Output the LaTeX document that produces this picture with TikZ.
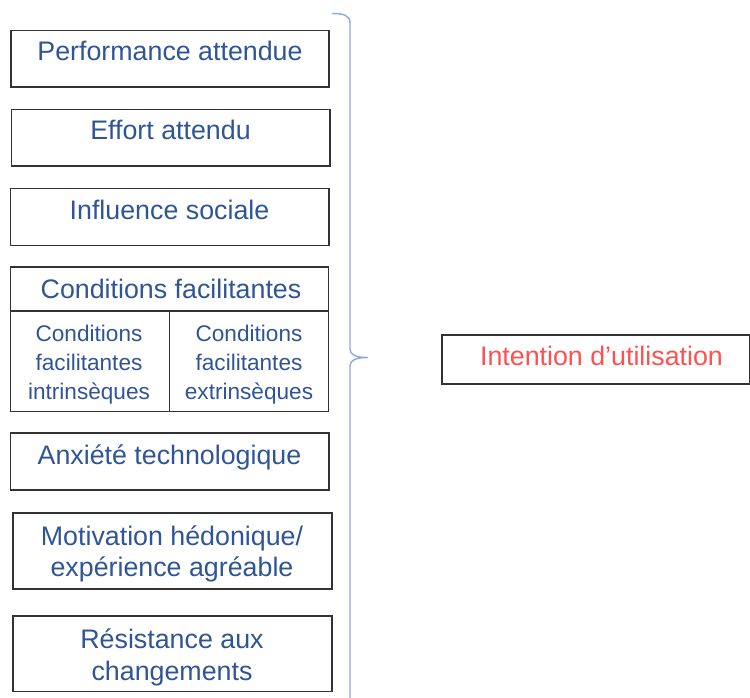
\documentclass[tikz,border=0pt]{standalone}
\usepackage{fontspec}
\setmainfont{Liberation Sans}
\definecolor{txtblue}{HTML}{2F5597}
\definecolor{txtred}{HTML}{FF5050}
\definecolor{bracecol}{HTML}{8EA9DB}
\definecolor{boxline}{HTML}{333333}
\begin{document}
\begin{tikzpicture}[x=1pt,y=-1pt,
  box/.style={draw=boxline, line width=1.8pt, inner sep=0pt, fill=none},
  lbl/.style={text=txtblue, font=\fontsize{26.8}{31.7}\selectfont, anchor=base, inner sep=0pt, align=center},
  sublbl/.style={text=txtblue, font=\fontsize{22.6}{29}\selectfont, anchor=base, inner sep=0pt},
  redlbl/.style={text=txtred, font=\fontsize{26.8}{31.7}\selectfont, anchor=base, inner sep=0pt}]
\useasboundingbox (0,0) rectangle (750,697);

% boxes
\draw[box] (10.7,30.5) rectangle (329,86.7) coordinate (b1);
\draw[box] (11.5,109.5) rectangle (330,166) coordinate (b2);
\draw[box] (10.5,188.5) rectangle (329,245.5) coordinate (b3);
\draw[box] (10.5,267) rectangle (328.5,411.5) coordinate (b4);
\draw[box] (10.5,311) -- (328.5,311);
\draw[box] (169.5,311) -- (169.5,411.5);
\draw[box] (10.5,433) rectangle (329,490) coordinate (b5);
\draw[box] (13,513) rectangle (332,589) coordinate (b6);
\draw[box] (13,616) rectangle (332,691.5) coordinate (b7);
\draw[box] (442,335) rectangle (749.5,384) coordinate (b8);

% labels
\node[lbl] (t1) at (170,60.7) {Performance attendue};
\node[lbl] (t2) at (170.5,139.2) {Effort attendu};
\node[lbl] (t3) at (169.5,219) {Influence sociale};
\node[lbl] (t4) at (171,298.3) {Conditions facilitantes};
\node[sublbl] (t4a) at (89,341) {Conditions};
\node[sublbl] (t4b) at (89,370) {facilitantes};
\node[sublbl] (t4c) at (89,399) {intrinsèques};
\node[sublbl] (t4d) at (249,341) {Conditions};
\node[sublbl] (t4e) at (249,370) {facilitantes};
\node[sublbl] (t4f) at (249,399) {extrinsèques};
\node[lbl] (t5) at (169.5,464) {Anxiété technologique};
\node[lbl] (t6a) at (172,545) {Motivation hédonique/};
\node[lbl] (t6b) at (172,576.7) {expérience agréable};
\node[lbl] (t7a) at (172,648.3) {Résistance aux};
\node[lbl] (t7b) at (172,680) {changements};
\node[redlbl] (t8) at (601.5,365.7) {Intention d’utilisation};

% brace
\coordinate (brtop) at (332,13.5);
\coordinate (brtip) at (368,357.5);
\coordinate (brbot) at (350,700);
\draw[bracecol, line width=1.4pt]
  (brtop) .. controls (343,13.5) and (350,15) .. (350,23)
  -- (350,349) .. controls (350,355) and (356,357.5) .. (brtip)
  .. controls (356,357.5) and (350,360) .. (350,366)
  -- (brbot);
\end{tikzpicture}
\end{document}
